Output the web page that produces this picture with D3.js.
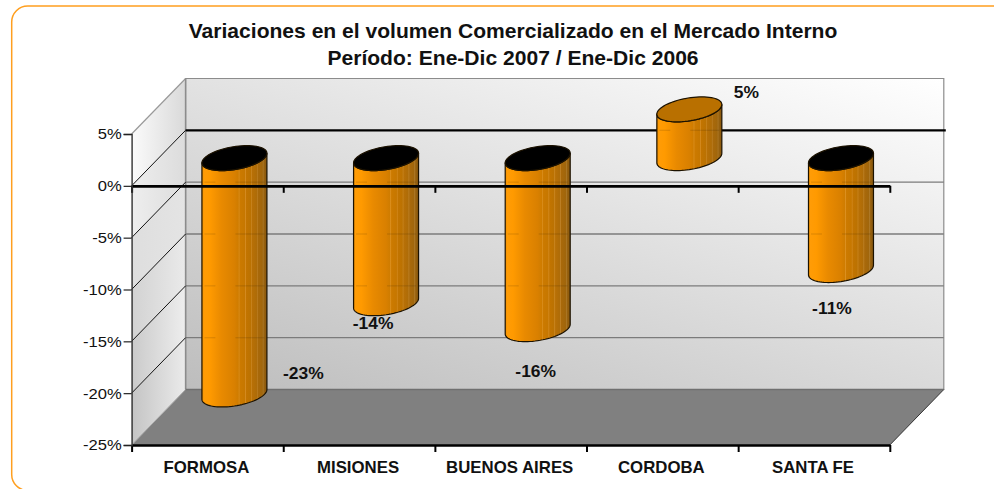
<!DOCTYPE html>
<html><head><meta charset="utf-8">
<script src="https://cdn.jsdelivr.net/npm/d3@7/dist/d3.min.js"></script>
<style>html,body{margin:0;padding:0;background:#fff;overflow:hidden}svg{display:block;font-family:"Liberation Sans",Arial,sans-serif}</style>
</head><body><svg id="c" width="994" height="489"></svg>
<script>
const categories = ["FORMOSA","MISIONES","BUENOS AIRES","CORDOBA","SANTA FE"];
const values = [-22.8,-14.0,-16.5,4.7,-10.8];
const yTicks = [5,0,-5,-10,-15,-20,-25];
const titleLines = ["Variaciones en el volumen Comercializado en el Mercado Interno","Período: Ene-Dic 2007 / Ene-Dic 2006"];

// layout, separate from the data
const labelNudge = [[69,-20],[-13,21],[-2,43],[57,-65],[-9,39]];
const depth = {x:54, y:-55.5}, rim = {a:30, p:12.5, q:12.5};
const wallBands = [["#fbfbfb","#d9d9d9"],["#eeeeee","#dcdcdc"],["#dedede","#e4e4e4"],["#d2d2d2","#eaeaea"],["#cacaca","#eeeeee"],["#c4c4c4","#ebebeb"]];
const sideStops = [[0,"#e88c00"],[.03,"#ff9c06"],[.12,"#ff9a00"],[.3,"#e98a00"],[.5,"#d98000"],[.56,"#cf7c00"],[.57,"#dc9020"],[.585,"#cc7a00"],[.66,"#c67700"],[.67,"#d48a20"],[.685,"#c27400"],[.75,"#bb7202"],[.76,"#c98520"],[.775,"#b87006"],[.84,"#ae6c08"],[.85,"#bd8026"],[.865,"#a9690a"],[.93,"#a0660c"],[.94,"#ae7a2a"],[.955,"#99620e"],[1,"#85560f"]];

const svg = d3.select("#c");
const x = d3.scaleBand().domain(categories).range([131.6,889.8]);
const y = d3.scaleLinear().domain([-25,5]).range([445,134]);
const backY = v => y(v)+depth.y;
const defs = svg.append("defs");

const grad = (id,a,b,stops,user) => {
  const g = defs.append("linearGradient").attr("id",id)
    .attr("x1",a[0]).attr("y1",a[1]).attr("x2",b[0]).attr("y2",b[1]);
  if(user) g.attr("gradientUnits","userSpaceOnUse");
  stops.forEach(s=>g.append("stop").attr("offset",s[0]).attr("stop-color",s[1]));
};
grad("back",[185,390],[346,-113],[[0,"#bdbdbd"],[1,"#ffffff"]],true);
grad("side",[0,0],[1,0],sideStops);
wallBands.forEach((b,i)=>grad("band"+i,[0,0],[1,0],[[0,b[0]],[1,b[1]]]));

const x0 = x.range()[0], x1 = x.range()[1];
const poly = pts => "M"+pts.map(p=>p.join(",")).join("L")+"Z";

// frame
svg.append("rect").attr("x",11.7).attr("y",6).attr("width",1100).attr("height",484.5).attr("rx",16)
  .attr("fill","#fff").attr("stroke","#ff9f1f").attr("stroke-width",1.5);

// back wall
svg.append("path").attr("d",poly([[x0+depth.x,backY(5)],[x1+depth.x,backY(5)],[x1+depth.x,backY(-25)],[x0+depth.x,backY(-25)]]))
  .attr("fill","url(#back)").attr("stroke","#8c8c8c").attr("stroke-width",1.2);

// side wall
d3.pairs(yTicks).forEach(([a,b],i)=>{
  svg.append("path").attr("d",poly([[x0,y(a)],[x0+depth.x,backY(a)],[x0+depth.x,backY(b)],[x0,y(b)]]))
    .attr("fill",`url(#band${i})`);
});
svg.append("line").attr("x1",x0).attr("y1",y(5)).attr("x2",x0+depth.x).attr("y2",backY(5)).attr("stroke","#999").attr("stroke-width",1.2);
svg.append("line").attr("x1",x0+depth.x).attr("y1",backY(5)).attr("x2",x0+depth.x).attr("y2",backY(-25)).attr("stroke","#8c8c8c").attr("stroke-width",1.5);

// floor
svg.append("path").attr("d",poly([[x0,y(-25)],[x1,y(-25)],[x1+depth.x,backY(-25)],[x0+depth.x,backY(-25)]])).attr("fill","#808080");
svg.append("line").attr("x1",x0).attr("y1",y(-25)).attr("x2",x0+depth.x).attr("y2",backY(-25)).attr("stroke","#aaa").attr("stroke-width",1);
svg.append("line").attr("x1",x1).attr("y1",y(-25)).attr("x2",x1+depth.x).attr("y2",backY(-25)).attr("stroke","#333").attr("stroke-width",1);
svg.append("line").attr("x1",x0+depth.x).attr("y1",backY(-25)).attr("x2",x1+depth.x).attr("y2",backY(-25)).attr("stroke","#6f6f6f").attr("stroke-width",1.5);

// gridlines
yTicks.slice(1,-1).forEach(t=>{
  const zero = t===0;
  svg.append("line").attr("x1",x0+depth.x).attr("x2",x1+depth.x+(zero?2:0)).attr("y1",backY(t)).attr("y2",backY(t))
    .attr("stroke",zero?"#000":"#7b7b7b").attr("stroke-width",zero?2.4:1.4);
  svg.append("line").attr("x1",x0).attr("y1",y(t)).attr("x2",x0+depth.x).attr("y2",backY(t))
    .attr("stroke","#111").attr("stroke-width",1);
});

// cylinders
const cx = c => x(c)+x.bandwidth()/2+depth.x/2;
const cy = v => y(v)+depth.y/2;
const ring = (c,v,t) => [cx(c)+rim.a*Math.cos(t)+rim.p*Math.sin(t), cy(v)-rim.q*Math.sin(t)];
const tL = Math.PI+Math.atan2(rim.p,rim.a), tR = Math.atan2(rim.p,rim.a);
const line = d3.line();
const steps = d3.range(0,41).map(i=>i/40);
const ellipse = (c,v) => line(d3.range(0,72).map(i=>ring(c,v,i/72*2*Math.PI)))+"Z";
const body = (c,hi,lo) => {
  const low = steps.map(s=>ring(c,lo,tL+s*(tR+2*Math.PI-tL)));
  const high = steps.map(s=>ring(c,hi,tR+2*Math.PI-s*(tR+2*Math.PI-tL)));
  return line(low.concat(high))+"Z";
};
const gBars = svg.append("g");
categories.forEach((c,i)=>{
  const v = values[i], hi = Math.max(v,0), lo = Math.min(v,0);
  gBars.append("path").attr("d",body(c,hi,lo)).attr("fill","url(#side)").attr("stroke","#1c1200").attr("stroke-width",1.2).attr("stroke-linejoin","round");
  const yTop = cy(hi), yBot = cy(lo);
  yTicks.slice(1,-1).forEach(t=>{
    const gy = backY(t);
    if(gy>yTop+8 && gy<yBot-2){
      gBars.append("line").attr("x1",cx(c)-30).attr("x2",cx(c)-19).attr("y1",gy).attr("y2",gy).attr("stroke","#000").attr("stroke-opacity",.1).attr("stroke-width",1.4);
      gBars.append("line").attr("x1",cx(c)+1).attr("x2",cx(c)+30).attr("y1",gy).attr("y2",gy).attr("stroke","#000").attr("stroke-opacity",.1).attr("stroke-width",1.4);
    }
  });
  gBars.append("path").attr("d",ellipse(c,hi)).attr("fill",v<0?"#000":"#b97000").attr("stroke","#1c1200").attr("stroke-width",1.2);
});

// axes
const xAxis = d3.axisBottom(d3.scaleLinear().domain([0,5]).range([x0,x1])).ticks(5).tickSize(7).tickFormat("").tickSizeOuter(0);
[0,-25].forEach(v=>{
  const g = svg.append("g").attr("transform",`translate(0,${y(v)})`).call(xAxis);
  g.select(".domain").attr("stroke","#000").attr("stroke-width",2.6);
  g.selectAll("line").attr("stroke","#000").attr("stroke-width",2);
});
const stretch = 1.07;
const yAxis = svg.append("g").attr("transform",`translate(${x0},0)`)
  .call(d3.axisLeft(y).tickValues(yTicks).tickSize(8).tickPadding(2).tickFormat(d=>d+"%"));
yAxis.select(".domain").attr("stroke","#333").attr("stroke-width",1.4);
yAxis.selectAll("line").attr("stroke","#222").attr("stroke-width",1.2);
yAxis.selectAll("text").attr("font-family","Liberation Sans").attr("font-size",15.5).attr("fill","#111")
  .attr("x",-9.3).attr("transform",`scale(${stretch},1)`);

const wide = (sel,px,py) => sel.attr("text-anchor","middle")
  .attr("transform",(d,i)=>`translate(${px(d,i)},${py(d,i)}) scale(${stretch},1)`);

// category labels
wide(svg.append("g").selectAll("text").data(categories).join("text"),d=>x(d)+x.bandwidth()/2-1,()=>472.5)
  .attr("font-size",15.7).attr("font-weight","bold").attr("fill","#111").text(d=>d);

// data labels
wide(svg.append("g").selectAll("text").data(values).join("text"),
    (d,i)=>cx(categories[i])+labelNudge[i][0],
    (d,i)=>cy(Math.min(d,0))+labelNudge[i][1]+5)
  .attr("font-size",16.3).attr("font-weight","bold").attr("fill","#111")
  .text(d=>Math.round(d)+"%");

// title
wide(svg.append("g").selectAll("text").data(titleLines).join("text"),()=>513,(d,i)=>38+i*27)
  .attr("font-size",19.7).attr("font-weight","bold").attr("fill","#111").text(d=>d);
</script></body></html>
